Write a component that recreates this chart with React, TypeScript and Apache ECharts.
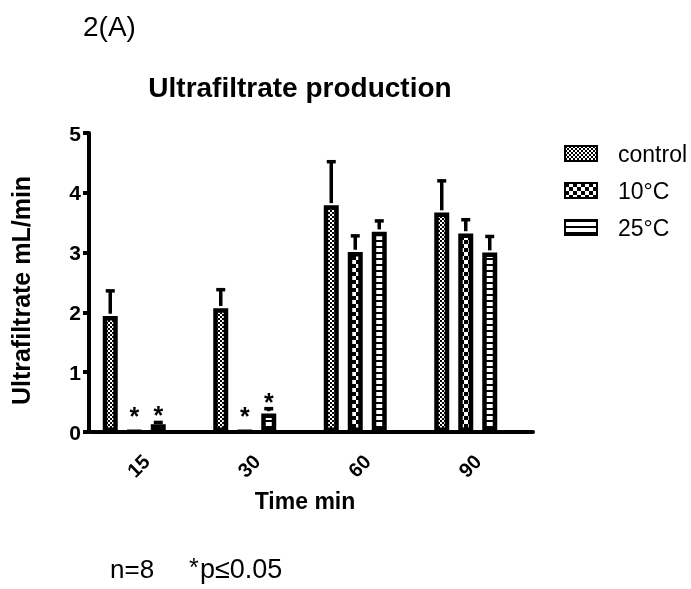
import React, { useEffect, useRef } from "react";
import * as echarts from "echarts";

const FONT = '"Liberation Sans", Arial, sans-serif';

const categories = ["15", "30", "60", "90"];
const seriesNames = ["control", "10°C", "25°C"];
const controlMean = [1.94, 2.07, 3.79, 3.67];
const controlUpper = [2.36, 2.38, 4.52, 4.2];
const c10Mean = [0.01, 0.01, 3.01, 3.32];
const c10Upper: (number | null)[] = [null, null, 3.28, 3.55];
const c25Mean = [0.13, 0.31, 3.35, 3.0];
const c25Upper = [0.16, 0.39, 3.53, 3.27];
const c10SigY: (number | null)[] = [0.37, 0.36, null, null];
const c25SigY: (number | null)[] = [0.38, 0.61, null, null];
const yMin = 0;
const yMax = 5;
const yStep = 1;

const BAR_W = 15;
const BAR_GAP = 0.6;
const BORDER = 4.5;

function makePattern(kind: string) {
  const c = document.createElement("canvas");
  const ctx = c.getContext("2d")!;
  if (kind === "fine") {
    c.width = 4; c.height = 4;
    ctx.fillStyle = "#fff"; ctx.fillRect(0, 0, 4, 4);
    ctx.fillStyle = "#000"; ctx.fillRect(0, 0, 2, 2); ctx.fillRect(2, 2, 2, 2);
  } else if (kind === "coarse") {
    c.width = 8; c.height = 8;
    ctx.fillStyle = "#fff"; ctx.fillRect(0, 0, 8, 8);
    ctx.fillStyle = "#000"; ctx.fillRect(0, 0, 4, 4); ctx.fillRect(4, 4, 4, 4);
  } else {
    c.width = 6; c.height = 6;
    ctx.fillStyle = "#fff"; ctx.fillRect(0, 0, 6, 6);
    ctx.fillStyle = "#000"; ctx.fillRect(0, 0, 6, 2);
  }
  return { image: c, repeat: "repeat" } as any;
}

export default function App() {
  const ref = useRef<HTMLDivElement>(null);
  useEffect(() => {
    const chart = echarts.init(ref.current!, null, { renderer: "svg" });
    const means = [controlMean, c10Mean, c25Mean];
    const uppers = [controlUpper, c10Upper, c25Upper];
    const sigs = [null, c10SigY, c25SigY];
    const patterns = [makePattern("fine"), makePattern("coarse"), makePattern("stripe")];

    const errData: number[][] = [];
    uppers.forEach((u, si) =>
      u.forEach((v, ci) => {
        if (v != null) errData.push([ci, means[si][ci], v, si]);
      })
    );
    const sigData: number[][] = [];
    sigs.forEach((s, si) => {
      if (!s) return;
      s.forEach((v, ci) => {
        if (v != null) sigData.push([ci, v, si]);
      });
    });
    const step = BAR_W * (1 + BAR_GAP);

    const barSeries = seriesNames.map((name, si) => ({
      type: "bar",
      name,
      data: means[si],
      barWidth: BAR_W,
      barGap: BAR_GAP * 100 + "%",
      itemStyle: { color: patterns[si], borderColor: "#000", borderWidth: BORDER },
      z: 2,
    }));

    chart.setOption({
      animation: false,
      grid: { left: 89, right: 158, top: 133, bottom: 157, containLabel: false },
      legend: {
        data: seriesNames,
        orient: "vertical",
        left: 564,
        top: 142,
        padding: 0,
        itemWidth: 32,
        itemHeight: 15,
        itemGap: 14,
        icon: "rect",
        selectedMode: false,
        textStyle: { fontSize: 23, color: "#000", fontFamily: FONT, padding: [0, 0, 0, 16] },
      },
      xAxis: {
        type: "category",
        data: categories,
        axisLine: { lineStyle: { color: "#000", width: 4 } },
        axisTick: { alignWithLabel: true, length: 9, lineStyle: { color: "#000", width: 4 } },
        axisLabel: { rotate: 45, margin: 26, fontSize: 20, fontWeight: "bold", color: "#000", fontFamily: FONT },
        name: "Time min",
        nameLocation: "middle",
        nameGap: 57,
        nameTextStyle: { fontSize: 23, fontWeight: "bold", color: "#000", fontFamily: FONT, padding: [0, 14, 0, 0] },
      },
      yAxis: {
        type: "value",
        min: yMin,
        max: yMax,
        interval: yStep,
        offset: 2,
        axisLine: { show: true, lineStyle: { color: "#000", width: 4 } },
        axisTick: { show: true, length: 6, lineStyle: { color: "#000", width: 4 } },
        axisLabel: { margin: 8, fontSize: 21, fontWeight: "bold", color: "#000", fontFamily: FONT },
        splitLine: { show: false },
        name: "Ultrafiltrate mL/min",
        nameLocation: "middle",
        nameGap: 56,
        nameTextStyle: { fontSize: 25, fontWeight: "bold", color: "#000", fontFamily: FONT, padding: [0, 16, 0, 0] },
      },
      graphic: [
        {
          type: "text",
          x: 83,
          y: 26,
          style: { text: "2(A)", font: `28px ${FONT}`, fill: "#000", textAlign: "left", textVerticalAlign: "middle", verticalAlign: "middle" },
        },
        {
          type: "text",
          x: 300,
          y: 87.5,
          style: { text: "Ultrafiltrate production", font: `bold 28px ${FONT}`, fill: "#000", textAlign: "center", textVerticalAlign: "middle", verticalAlign: "middle" },
        },
        {
          type: "text",
          x: 110,
          y: 569,
          style: { text: "n=8", font: `26px ${FONT}`, fill: "#000", textAlign: "left", textVerticalAlign: "middle", verticalAlign: "middle" },
        },
        {
          type: "text",
          x: 189,
          y: 567,
          style: { text: "*", font: `25px ${FONT}`, fill: "#000", textAlign: "left", textVerticalAlign: "middle", verticalAlign: "middle" },
        },
        {
          type: "text",
          x: 200,
          y: 569,
          style: { text: "p≤0.05", font: `27px ${FONT}`, fill: "#000", textAlign: "left", textVerticalAlign: "middle", verticalAlign: "middle" },
        },
      ],
      series: [
        ...barSeries,
        {
          type: "bar",
          name: "spacer",
          data: categories.map(() => null),
          barWidth: BAR_W,
          barGap: BAR_GAP * 100 + "%",
          silent: true,
        },
        {
          type: "custom",
          name: "errors",
          data: errData,
          encode: { x: 0, y: [1, 2] },
          z: 3,
          silent: true,
          renderItem: (params: any, api: any) => {
            const ci = api.value(0);
            const si = api.value(3);
            const base = api.coord([ci, api.value(1)]);
            const top = api.coord([ci, api.value(2)]);
            const x = base[0] + (si - 1.5) * step;
            const y0 = base[1] - BORDER / 2;
            return {
              type: "group",
              children: [
                { type: "line", shape: { x1: x, y1: y0, x2: x, y2: top[1] }, style: { stroke: "#000", lineWidth: 3.5 } },
                { type: "line", shape: { x1: x - 4.5, y1: top[1], x2: x + 4.5, y2: top[1] }, style: { stroke: "#000", lineWidth: 3.5 } },
              ],
            };
          },
        },
        {
          type: "custom",
          name: "significance",
          data: sigData,
          encode: { x: 0, y: 1 },
          z: 3,
          silent: true,
          renderItem: (params: any, api: any) => {
            const ci = api.value(0);
            const si = api.value(2);
            const p = api.coord([ci, api.value(1)]);
            const x = p[0] + (si - 1.5) * step;
            return {
              type: "text",
              x,
              y: p[1] + 25 * 0.24,
              style: { text: "*", font: `bold 25px ${FONT}`, fill: "#000", textAlign: "center", textVerticalAlign: "middle", verticalAlign: "middle" },
            };
          },
        },
      ],
    } as any);
    return () => chart.dispose();
  }, []);
  return <div ref={ref} style={{ position: "fixed", left: 0, top: 0, width: 691, height: 589 }} />;
}
